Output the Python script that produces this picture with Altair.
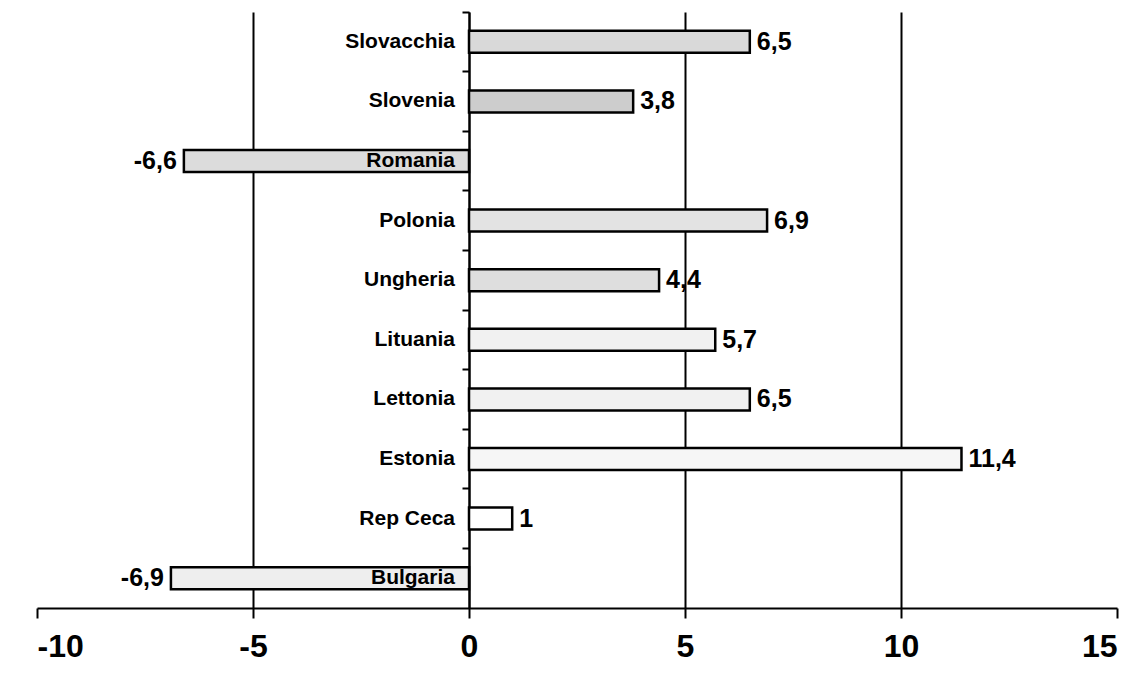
import altair as alt
import pandas as pd

categories = ["Slovacchia", "Slovenia", "Romania", "Polonia", "Ungheria",
              "Lituania", "Lettonia", "Estonia", "Rep Ceca", "Bulgaria"]
values = [6.5, 3.8, -6.6, 6.9, 4.4, 5.7, 6.5, 11.4, 1.0, -6.9]
x_ticks = [-10, -5, 0, 5, 10, 15]
bar_fills = ["#d9d9d9", "#cdcdcd", "#dcdcdc", "#e3e3e3", "#dedede",
             "#f1f1f1", "#f1f1f1", "#f6f6f6", "#ffffff", "#eeeeee"]

def fmt(v):
    s = ("%g" % v)
    return s.replace(".", ",")

df = pd.DataFrame({
    "cat": categories,
    "val": values,
    "lab": [fmt(v) for v in values],
})

FONT = "Liberation Sans"
W, H = 1080, 596

x = alt.X("val:Q", scale=alt.Scale(domain=[-10, 15], nice=False, zero=False),
          axis=alt.Axis(values=x_ticks, title=None,
                        labelExpr="'' + datum.value",
                        tickSize=10, tickWidth=2, tickColor="black",
                        domainColor="black", domainWidth=2,
                        labelFont=FONT, labelFontSize=32, labelFontWeight="bold",
                        labelColor="black", labelPadding=13,
                        grid=True, gridColor="black", gridWidth=2,
                        gridOpacity={"condition": {"test": "datum.value == -10 || datum.value == 15", "value": 0}, "value": 1}))
y = alt.Y("cat:N", sort=categories,
          scale=alt.Scale(paddingInner=0, paddingOuter=0),
          axis=alt.Axis(title=None, labels=False, bandPosition=0,
                        offset=-(W * 10 / 25), tickSize=7, tickWidth=2,
                        tickColor="black", domainColor="black", domainWidth=2,
                        grid=False))

bars = alt.Chart(df).mark_bar(size=22, stroke="black", strokeWidth=2.5).encode(
    x=x, y=y,
    color=alt.Color("cat:N", scale=alt.Scale(domain=categories, range=bar_fills), legend=None),
)

cat_text = alt.Chart(df).mark_text(align="right", baseline="middle", dx=-14,
                                   font=FONT, fontSize=21, fontWeight="bold",
                                   color="black").encode(
    x=alt.datum(0), y=alt.Y("cat:N", sort=categories), text="cat:N")

pos_text = alt.Chart(df).transform_filter("datum.val >= 0").mark_text(
    align="left", baseline="middle", dx=7, font=FONT, fontSize=25,
    fontWeight="bold", color="black").encode(
    x="val:Q", y=alt.Y("cat:N", sort=categories), text="lab:N")

neg_text = alt.Chart(df).transform_filter("datum.val < 0").mark_text(
    align="right", baseline="middle", dx=-7, font=FONT, fontSize=25,
    fontWeight="bold", color="black").encode(
    x="val:Q", y=alt.Y("cat:N", sort=categories), text="lab:N")

chart = alt.layer(bars, cat_text, pos_text, neg_text).properties(
    width=W, height=H,
    autosize=alt.AutoSizeParams(type="none"),
    padding={"left": 29, "top": 4, "right": 19, "bottom": 60},
    background="white",
).configure_view(stroke=None)

chart.save("out.html", embed_options={"renderer": "svg", "actions": False})
